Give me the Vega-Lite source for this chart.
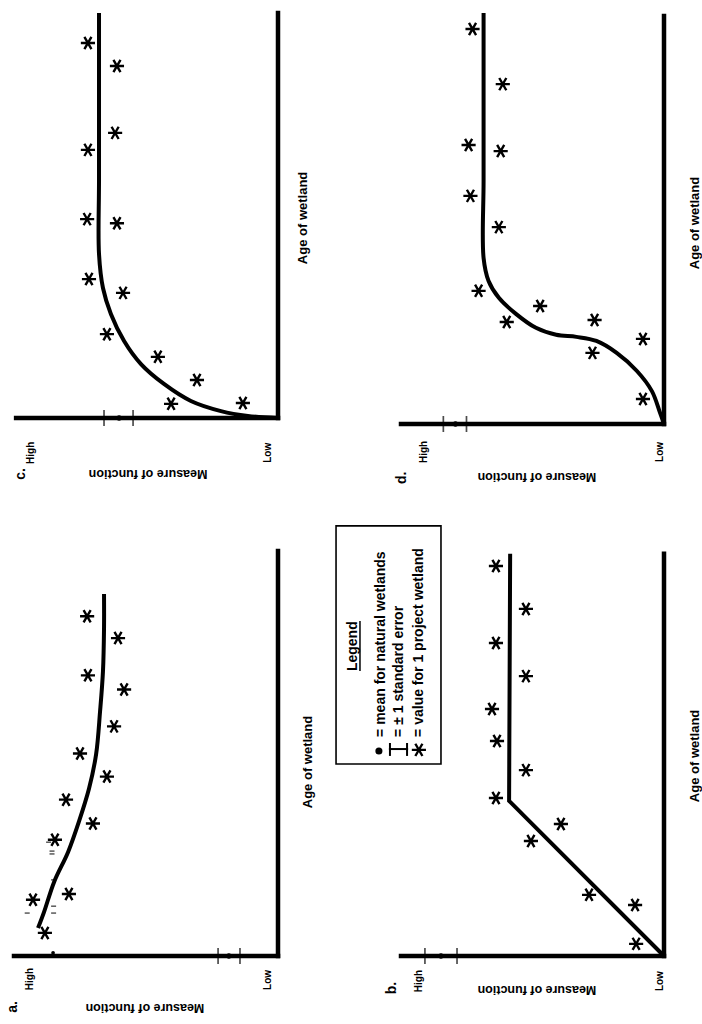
{
  "$schema": "https://vega.github.io/schema/vega-lite/v6.json",
  "padding": {"left": 5, "top": 5, "right": 0, "bottom": 0},
  "columns": 2,
  "spacing": {"row": 127, "column": 123},
  "bounds": "flush",
  "datasets": {
    "c_curve": [{"m":0,"age":0},{"m":11.4,"age":0.5},{"m":21.6,"age":1.7},{"m":33,"age":4.2},{"m":43.2,"age":8.4},{"m":51.9,"age":13.3},{"m":58.3,"age":19},{"m":63.3,"age":25.7},{"m":66.3,"age":32.1},{"m":67.8,"age":40.5},{"m":67.8,"age":58.5},{"m":67.8,"age":78.3},{"m":67.8,"age":100}],
    "c_stars": [{"m":72,"age":92.6},{"m":61,"age":86.9},{"m":61.7,"age":70.4},{"m":72,"age":66.2},{"m":72.3,"age":49.1},{"m":61,"age":48.1},{"m":71.6,"age":34.3},{"m":58.7,"age":30.9},{"m":64.8,"age":20.7},{"m":45.5,"age":15.1},{"m":30.7,"age":9.4},{"m":40.5,"age":3.5},{"m":13.3,"age":3.7}],
    "c_mean": [{"mean":60.2,"lo":54.9,"hi":65.9}],
    "d_curve": [{"m":0,"age":0},{"m":1.5,"age":2.7},{"m":4.6,"age":8},{"m":10.3,"age":12.9},{"m":18,"age":17.3},{"m":25.7,"age":20.2},{"m":33.3,"age":21.2},{"m":41,"age":21.7},{"m":48.7,"age":23.4},{"m":56.3,"age":26.8},{"m":62.8,"age":30.7},{"m":66.7,"age":34.8},{"m":68.6,"age":40.4},{"m":68.6,"age":59.1},{"m":68.6,"age":78.6},{"m":68.6,"age":100}],
    "d_stars": [{"m":72.8,"age":96.1},{"m":61.3,"age":82.7},{"m":74.3,"age":67.9},{"m":62.1,"age":66.4},{"m":73.6,"age":55.5},{"m":62.8,"age":47.9},{"m":70.5,"age":32.4},{"m":47.1,"age":28.7},{"m":59.8,"age":24.8},{"m":26.4,"age":25.3},{"m":8,"age":20.7},{"m":27.2,"age":17.3},{"m":8,"age":6.1}],
    "d_mean": [{"mean":79.3,"lo":75.1,"hi":83.9}],
    "a_curve": [{"m":90.9,"age":6.9},{"m":88.6,"age":10.9},{"m":84.8,"age":18.3},{"m":79.5,"age":25.7},{"m":75.4,"age":33.2},{"m":71.6,"age":41.3},{"m":68.9,"age":49.8},{"m":67.4,"age":60.4},{"m":66.3,"age":70.3},{"m":65.9,"age":80.9},{"m":65.9,"age":89.4}],
    "a_stars": [{"m":72.3,"age":83.9},{"m":60.6,"age":78.5},{"m":72,"age":69.3},{"m":58.3,"age":65.8},{"m":62.1,"age":56.7},{"m":75,"age":50},{"m":64.8,"age":44.3},{"m":80.3,"age":38.6},{"m":70.1,"age":32.7},{"m":84.5,"age":28.7},{"m":79.2,"age":15.3},{"m":92.8,"age":13.9},{"m":88.3,"age":5.7}],
    "a_mean": [{"mean":18.6,"lo":14.4,"hi":22.7}],
    "a_dashes": [{"m":86.9,"age":28.1},{"m":85.6,"age":25.9},{"m":85.6,"age":25.2},{"m":85,"age":18.8},{"m":85,"age":12.3},{"m":85,"age":10.6},{"m":95,"age":10.6}],
    "a_speck": [{"m":85.2,"age":0.8}],
    "b_curve": [{"m":0,"age":0},{"m":58.9,"age":38.3},{"m":58.5,"age":99.3}],
    "b_stars": [{"m":63.9,"age":96.3},{"m":52.5,"age":85.7},{"m":63.9,"age":77.3},{"m":52.5,"age":69.1},{"m":65.4,"age":61},{"m":63.5,"age":53.1},{"m":52.5,"age":45.9},{"m":63.9,"age":39},{"m":39.2,"age":32.6},{"m":50.6,"age":28.4},{"m":28.5,"age":15.1},{"m":11,"age":12.6},{"m":10.6,"age":3}],
    "b_mean": [{"mean":84.8,"lo":78.7,"hi":90.9}]
  },
  "concat": [
    {
      "width": 264, "height": 405,
      "data": {"values": [{}]},
      "layer": [
        {"data": {"name": "c_curve"}, "mark": {"type": "line", "interpolate": "catmull-rom", "color": "black", "strokeWidth": 4}, "encoding": {"x": {"field": "m", "type": "quantitative", "scale": {"domain": [0, 100], "reverse": true}}, "y": {"field": "age", "type": "quantitative", "scale": {"domain": [0, 100]}}, "order": {"field": "age", "type": "quantitative"}}},
        {"data": {"name": "c_stars"}, "mark": {"type": "point", "shape": "M-1,0L1,0M-0.5,-0.866L0.5,0.866M-0.5,0.866L0.5,-0.866", "filled": false, "stroke": "black", "strokeWidth": 2.4, "size": 200, "opacity": 1}, "encoding": {"x": {"field": "m", "type": "quantitative"}, "y": {"field": "age", "type": "quantitative"}}},
        {"mark": {"type": "rule", "color": "black", "strokeWidth": 4.5, "strokeCap": "square"}, "encoding": {"x": {"datum": 0}, "x2": {"datum": 99.2}, "y": {"datum": 0}}},
        {"mark": {"type": "rule", "color": "black", "strokeWidth": 4.5, "strokeCap": "square"}, "encoding": {"x": {"datum": 0}, "y": {"datum": 0}, "y2": {"datum": 100}}},
        {"data": {"name": "c_mean"}, "mark": {"type": "tick", "orient": "vertical", "size": 16, "thickness": 1.7, "color": "black"}, "encoding": {"x": {"field": "lo", "type": "quantitative"}, "y": {"datum": 0}}},
        {"data": {"name": "c_mean"}, "mark": {"type": "tick", "orient": "vertical", "size": 16, "thickness": 1.7, "color": "black"}, "encoding": {"x": {"field": "hi", "type": "quantitative"}, "y": {"datum": 0}}},
        {"data": {"name": "c_mean"}, "mark": {"type": "point", "filled": true, "color": "black", "size": 28, "opacity": 1}, "encoding": {"x": {"field": "mean", "type": "quantitative"}, "y": {"datum": 0}}},
        {"mark": {"type": "text", "angle": 270, "fontSize": 14}, "encoding": {"x": {"datum": 97.3}, "y": {"datum": -13.8}, "text": {"value": "c."}}},
        {"mark": {"type": "text", "angle": 270, "fontSize": 10}, "encoding": {"x": {"datum": 93.6}, "y": {"datum": -8.6}, "text": {"value": "High"}}},
        {"mark": {"type": "text", "angle": 270, "fontSize": 10}, "encoding": {"x": {"datum": 3.8}, "y": {"datum": -8.6}, "text": {"value": "Low"}}},
        {"mark": {"type": "text", "angle": 180, "fontSize": 12.5}, "encoding": {"x": {"datum": 49.2}, "y": {"datum": -13.8}, "text": {"value": "Measure of function"}}},
        {"mark": {"type": "text", "angle": 270, "fontSize": 13}, "encoding": {"x": {"datum": -9.5}, "y": {"datum": 49.4}, "text": {"value": "Age of wetland"}}}
      ]
    },
    {
      "width": 263, "height": 411,
      "data": {"values": [{}]},
      "layer": [
        {"data": {"name": "d_curve"}, "mark": {"type": "line", "interpolate": "catmull-rom", "color": "black", "strokeWidth": 4}, "encoding": {"x": {"field": "m", "type": "quantitative", "scale": {"domain": [0, 100], "reverse": true}}, "y": {"field": "age", "type": "quantitative", "scale": {"domain": [0, 100]}}, "order": {"field": "age", "type": "quantitative"}}},
        {"data": {"name": "d_stars"}, "mark": {"type": "point", "shape": "M-1,0L1,0M-0.5,-0.866L0.5,0.866M-0.5,0.866L0.5,-0.866", "filled": false, "stroke": "black", "strokeWidth": 2.4, "size": 200, "opacity": 1}, "encoding": {"x": {"field": "m", "type": "quantitative"}, "y": {"field": "age", "type": "quantitative"}}},
        {"mark": {"type": "rule", "color": "black", "strokeWidth": 4.5, "strokeCap": "square"}, "encoding": {"x": {"datum": 0}, "x2": {"datum": 100}, "y": {"datum": 0}}},
        {"mark": {"type": "rule", "color": "black", "strokeWidth": 4.5, "strokeCap": "square"}, "encoding": {"x": {"datum": 0}, "y": {"datum": 0}, "y2": {"datum": 99.3}}},
        {"data": {"name": "d_mean"}, "mark": {"type": "tick", "orient": "vertical", "size": 16, "thickness": 1.7, "color": "black"}, "encoding": {"x": {"field": "lo", "type": "quantitative"}, "y": {"datum": 0}}},
        {"data": {"name": "d_mean"}, "mark": {"type": "tick", "orient": "vertical", "size": 16, "thickness": 1.7, "color": "black"}, "encoding": {"x": {"field": "hi", "type": "quantitative"}, "y": {"datum": 0}}},
        {"data": {"name": "d_mean"}, "mark": {"type": "point", "filled": true, "color": "black", "size": 28, "opacity": 1}, "encoding": {"x": {"field": "mean", "type": "quantitative"}, "y": {"datum": 0}}},
        {"mark": {"type": "text", "angle": 270, "fontSize": 14}, "encoding": {"x": {"datum": 99.6}, "y": {"datum": -13.1}, "text": {"value": "d."}}},
        {"mark": {"type": "text", "angle": 270, "fontSize": 10}, "encoding": {"x": {"datum": 91.3}, "y": {"datum": -6.8}, "text": {"value": "High"}}},
        {"mark": {"type": "text", "angle": 270, "fontSize": 10}, "encoding": {"x": {"datum": 1.5}, "y": {"datum": -6.8}, "text": {"value": "Low"}}},
        {"mark": {"type": "text", "angle": 180, "fontSize": 12.5}, "encoding": {"x": {"datum": 48.3}, "y": {"datum": -12.9}, "text": {"value": "Measure of function"}}},
        {"mark": {"type": "text", "angle": 270, "fontSize": 13}, "encoding": {"x": {"datum": -11.8}, "y": {"datum": 48.9}, "text": {"value": "Age of wetland"}}}
      ]
    },
    {
      "width": 264, "height": 405,
      "data": {"values": [{}]},
      "layer": [
        {"data": {"name": "a_curve"}, "mark": {"type": "line", "interpolate": "catmull-rom", "color": "black", "strokeWidth": 4}, "encoding": {"x": {"field": "m", "type": "quantitative", "scale": {"domain": [0, 100], "reverse": true}}, "y": {"field": "age", "type": "quantitative", "scale": {"domain": [0, 100]}}, "order": {"field": "age", "type": "quantitative"}}},
        {"data": {"name": "a_stars"}, "mark": {"type": "point", "shape": "M-1,0L1,0M-0.5,-0.866L0.5,0.866M-0.5,0.866L0.5,-0.866", "filled": false, "stroke": "black", "strokeWidth": 2.4, "size": 200, "opacity": 1}, "encoding": {"x": {"field": "m", "type": "quantitative"}, "y": {"field": "age", "type": "quantitative"}}},
        {"data": {"name": "a_dashes"}, "mark": {"type": "tick", "orient": "horizontal", "size": 5, "thickness": 1.4, "color": "black"}, "encoding": {"x": {"field": "m", "type": "quantitative"}, "y": {"field": "age", "type": "quantitative"}}},
        {"mark": {"type": "rule", "color": "black", "strokeWidth": 4.5, "strokeCap": "square"}, "encoding": {"x": {"datum": 0}, "x2": {"datum": 100}, "y": {"datum": 0}}},
        {"mark": {"type": "rule", "color": "black", "strokeWidth": 4.5, "strokeCap": "square"}, "encoding": {"x": {"datum": 0}, "y": {"datum": 0}, "y2": {"datum": 100}}},
        {"data": {"name": "a_speck"}, "mark": {"type": "point", "filled": true, "color": "black", "size": 14, "opacity": 1}, "encoding": {"x": {"field": "m", "type": "quantitative"}, "y": {"field": "age", "type": "quantitative"}}},
        {"data": {"name": "a_mean"}, "mark": {"type": "tick", "orient": "vertical", "size": 16, "thickness": 1.7, "color": "black"}, "encoding": {"x": {"field": "lo", "type": "quantitative"}, "y": {"datum": 0}}},
        {"data": {"name": "a_mean"}, "mark": {"type": "tick", "orient": "vertical", "size": 16, "thickness": 1.7, "color": "black"}, "encoding": {"x": {"field": "hi", "type": "quantitative"}, "y": {"datum": 0}}},
        {"data": {"name": "a_mean"}, "mark": {"type": "point", "filled": true, "color": "black", "size": 28, "opacity": 1}, "encoding": {"x": {"field": "mean", "type": "quantitative"}, "y": {"datum": 0}}},
        {"mark": {"type": "text", "angle": 270, "fontSize": 14}, "encoding": {"x": {"datum": 100.4}, "y": {"datum": -12.6}, "text": {"value": "a."}}},
        {"mark": {"type": "text", "angle": 270, "fontSize": 10}, "encoding": {"x": {"datum": 93.9}, "y": {"datum": -5.7}, "text": {"value": "High"}}},
        {"mark": {"type": "text", "angle": 270, "fontSize": 10}, "encoding": {"x": {"datum": 3.8}, "y": {"datum": -5.9}, "text": {"value": "Low"}}},
        {"mark": {"type": "text", "angle": 180, "fontSize": 12.5}, "encoding": {"x": {"datum": 50.4}, "y": {"datum": -12.8}, "text": {"value": "Measure of function"}}},
        {"mark": {"type": "text", "angle": 270, "fontSize": 13}, "encoding": {"x": {"datum": -11.4}, "y": {"datum": 47.9}, "text": {"value": "Age of wetland"}}}
      ]
    },
    {
      "width": 263, "height": 405,
      "data": {"values": [{}]},
      "layer": [
        {"data": {"name": "b_curve"}, "mark": {"type": "line", "color": "black", "strokeWidth": 4}, "encoding": {"x": {"field": "m", "type": "quantitative", "scale": {"domain": [0, 100], "reverse": true}}, "y": {"field": "age", "type": "quantitative", "scale": {"domain": [0, 100]}}, "order": {"field": "age", "type": "quantitative"}}},
        {"data": {"name": "b_stars"}, "mark": {"type": "point", "shape": "M-1,0L1,0M-0.5,-0.866L0.5,0.866M-0.5,0.866L0.5,-0.866", "filled": false, "stroke": "black", "strokeWidth": 2.4, "size": 200, "opacity": 1}, "encoding": {"x": {"field": "m", "type": "quantitative"}, "y": {"field": "age", "type": "quantitative"}}},
        {"mark": {"type": "rule", "color": "black", "strokeWidth": 4.5, "strokeCap": "square"}, "encoding": {"x": {"datum": 0}, "x2": {"datum": 100}, "y": {"datum": 0}}},
        {"mark": {"type": "rule", "color": "black", "strokeWidth": 4.5, "strokeCap": "square"}, "encoding": {"x": {"datum": 0}, "y": {"datum": 0}, "y2": {"datum": 99.3}}},
        {"data": {"name": "b_mean"}, "mark": {"type": "tick", "orient": "vertical", "size": 16, "thickness": 1.7, "color": "black"}, "encoding": {"x": {"field": "lo", "type": "quantitative"}, "y": {"datum": 0}}},
        {"data": {"name": "b_mean"}, "mark": {"type": "tick", "orient": "vertical", "size": 16, "thickness": 1.7, "color": "black"}, "encoding": {"x": {"field": "hi", "type": "quantitative"}, "y": {"datum": 0}}},
        {"data": {"name": "b_mean"}, "mark": {"type": "point", "filled": true, "color": "black", "size": 28, "opacity": 1}, "encoding": {"x": {"field": "mean", "type": "quantitative"}, "y": {"datum": 0}}},
        {"mark": {"type": "text", "angle": 270, "fontSize": 14}, "encoding": {"x": {"datum": 103.4}, "y": {"datum": -7.9}, "text": {"value": "b."}}},
        {"mark": {"type": "text", "angle": 270, "fontSize": 10}, "encoding": {"x": {"datum": 93.2}, "y": {"datum": -6.2}, "text": {"value": "High"}}},
        {"mark": {"type": "text", "angle": 270, "fontSize": 10}, "encoding": {"x": {"datum": 1.5}, "y": {"datum": -6.2}, "text": {"value": "Low"}}},
        {"mark": {"type": "text", "angle": 180, "fontSize": 12.5}, "encoding": {"x": {"datum": 48.3}, "y": {"datum": -8.4}, "text": {"value": "Measure of function"}}},
        {"mark": {"type": "text", "angle": 270, "fontSize": 13}, "encoding": {"x": {"datum": -11.8}, "y": {"datum": 49.4}, "text": {"value": "Age of wetland"}}},
        {"mark": {"type": "rect", "fillOpacity": 0, "stroke": "black", "strokeWidth": 1.6}, "encoding": {"x": {"datum": 124.7}, "x2": {"datum": 84.8}, "y": {"datum": 106.2}, "y2": {"datum": 47.4}}},
        {"mark": {"type": "text", "angle": 270, "fontSize": 14}, "encoding": {"x": {"datum": 118.3}, "y": {"datum": 76.5}, "text": {"value": "Legend"}}},
        {"mark": {"type": "rule", "color": "black", "strokeWidth": 1.5}, "encoding": {"x": {"datum": 115.6}, "y": {"datum": 70.4}, "y2": {"datum": 82.7}}},
        {"mark": {"type": "point", "filled": true, "color": "black", "size": 50, "opacity": 1}, "encoding": {"x": {"datum": 108.4}, "y": {"datum": 50.6}}},
        {"mark": {"type": "text", "angle": 270, "fontSize": 14, "align": "left"}, "encoding": {"x": {"datum": 107.6}, "y": {"datum": 54.1}, "text": {"value": "= mean for natural wetlands"}}},
        {"mark": {"type": "rule", "color": "black", "strokeWidth": 2}, "encoding": {"x": {"datum": 104.6}, "x2": {"datum": 97.3}, "y": {"datum": 51.1}}},
        {"mark": {"type": "rule", "color": "black", "strokeWidth": 2}, "encoding": {"x": {"datum": 104.2}, "y": {"datum": 49.4}, "y2": {"datum": 52.6}}},
        {"mark": {"type": "rule", "color": "black", "strokeWidth": 2}, "encoding": {"x": {"datum": 97.7}, "y": {"datum": 49.4}, "y2": {"datum": 52.6}}},
        {"mark": {"type": "text", "angle": 270, "fontSize": 14, "align": "left"}, "encoding": {"x": {"datum": 100.8}, "y": {"datum": 54.1}, "text": {"value": "= ± 1 standard error"}}},
        {"mark": {"type": "point", "shape": "M-1,0L1,0M-0.5,-0.866L0.5,0.866M-0.5,0.866L0.5,-0.866", "filled": false, "stroke": "black", "strokeWidth": 2.4, "size": 200, "opacity": 1}, "encoding": {"x": {"datum": 93.2}, "y": {"datum": 50.9}}},
        {"mark": {"type": "text", "angle": 270, "fontSize": 14, "align": "left"}, "encoding": {"x": {"datum": 93.2}, "y": {"datum": 54.1}, "text": {"value": "= value for 1 project wetland"}}}
      ]
    }
  ],
  "config": {
    "view": {"stroke": null},
    "axis": {"disable": true},
    "text": {"font": "Liberation Sans", "fontWeight": "bold", "color": "black", "align": "center", "baseline": "middle"}
  }
}
